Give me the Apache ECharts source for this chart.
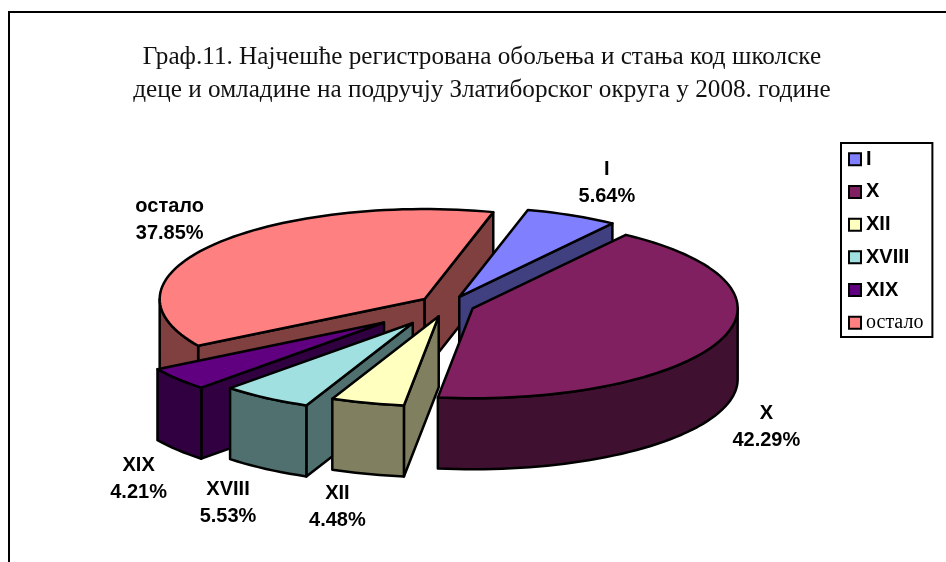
<!DOCTYPE html>
<html>
<head>
<meta charset="utf-8">
<style>
  html, body { margin: 0; padding: 0; background: #fff; }
  #myChart { width: 946px; height: 562px; }
</style>
<script src="https://cdn.jsdelivr.net/npm/echarts@6/dist/echarts.min.js"></script>
</head>
<body>
<div id="myChart"></div>
<script>
// data
const categories = ["I", "X", "XII", "XVIII", "XIX", "остало"];
const values = [5.64, 42.29, 4.48, 5.53, 4.21, 37.85];

// styles
const topColors = ["#8080FF", "#802060", "#FFFFC0", "#A0E0E0", "#600080", "#FF8080"];
const wallColors = ["#404080", "#401030", "#808060", "#507070", "#300040", "#804040"];
const explode = [0.1, 0.1, 0.13, 0.24, 0.31, 0.11];
const labelOffsets = [[35, -32], [47, 86], [-30, 104], [-38, 105], [-39, 100], [-43, -25]];
const drawOrder = [5, 0, 4, 3, 2, 1]; // painter's order, back to front

// 3d pie projection
const cx = 448, cy = 305, rx = 265, ry = 90, depth = 71, startAngle = 15;
const total = values.reduce((a, b) => a + b, 0);

const rad = (d) => (d * Math.PI) / 180;
const rim = (c, a, dz) => [c[0] + rx * Math.sin(rad(a)), c[1] - ry * Math.cos(rad(a)) + dz];
const arc = (c, a0, a1, dz) => {
  const pts = [];
  const n = Math.max(2, Math.ceil(Math.abs(a1 - a0) / 2));
  for (let i = 0; i <= n; i++) pts.push(rim(c, a0 + ((a1 - a0) * i) / n, dz));
  return pts;
};

const sliceStyle = (fill) => ({ fill, stroke: "#000", lineWidth: 2.5, lineJoin: "round" });

function renderSlice(idx) {
  return function (params, api) {
    const value = api.value(0);
    let before = 0;
    for (let i = 0; i < idx; i++) before += values[i];
    const a0 = startAngle + (before / total) * 360;
    const a1 = a0 + (value / total) * 360;
    const mid = (a0 + a1) / 2;
    const e = explode[idx];
    const c = [cx + e * rx * Math.sin(rad(mid)), cy - e * ry * Math.cos(rad(mid))];
    const children = [];
    const wall = wallColors[idx];
    const quad = (a) => {
      const p = rim(c, a, 0);
      return [c, p, [p[0], p[1] + depth], [c[0], c[1] + depth]];
    };
    // cut faces, only those turned to the viewer
    if (Math.sin(rad(a0)) < 0) {
      children.push({ type: "polygon", shape: { points: quad(a0) }, style: sliceStyle(wall) });
    }
    if (Math.sin(rad(a1)) > 0) {
      children.push({ type: "polygon", shape: { points: quad(a1) }, style: sliceStyle(wall) });
    }
    // outer wall, front half of the ellipse only
    const w0 = Math.max(a0, 90), w1 = Math.min(a1, 270);
    if (w1 > w0) {
      const pts = arc(c, w0, w1, 0).concat(arc(c, w1, w0, depth));
      children.push({ type: "polygon", shape: { points: pts }, style: sliceStyle(wall) });
    }
    // top
    children.push({
      type: "polygon",
      shape: { points: [c].concat(arc(c, a0, a1, 0)) },
      style: sliceStyle(topColors[idx]),
    });
    // label
    const m = rim(c, mid, 0);
    const off = labelOffsets[idx];
    children.push({
      type: "text",
      x: m[0] + off[0],
      y: m[1] + off[1],
      style: {
        text: categories[idx] + "\n" + value.toFixed(2) + "%",
        fill: "#000",
        font: 'bold 20px "Liberation Sans", Arial, sans-serif',
        lineHeight: 27,
        align: "center",
        verticalAlign: "middle",
      },
    });
    return { type: "group", children };
  };
}

const option = {
  animation: false,
  backgroundColor: "#fff",
  title: {
    text: "Граф.11. Најчешће регистрована обољења и стања код школске\nдеце и омладине на подручју Златиборског округа у 2008. године",
    left: 477,
    top: 36,
    textAlign: "center",
    textStyle: {
      fontFamily: '"Liberation Serif", "Times New Roman", serif',
      fontSize: 25.2,
      fontWeight: "normal",
      color: "#111",
      lineHeight: 33,
    },
  },
  legend: {
    orient: "vertical",
    left: 841,
    top: 143,
    padding: [5, 9, 3, 7],
    itemWidth: 12,
    itemHeight: 12,
    itemGap: 10.2,
    borderColor: "#000",
    borderWidth: 2,
    backgroundColor: "#fff",
    selectedMode: false,
    icon: "rect",
    itemStyle: { borderColor: "#000", borderWidth: 2 },
    data: categories.map((name, i) => ({
      name,
      textStyle:
        i === categories.length - 1
          ? { fontFamily: '"Liberation Serif", serif', fontSize: 20, fontWeight: "normal", lineHeight: 22.5 }
          : { fontFamily: '"Liberation Sans", sans-serif', fontSize: 20, fontWeight: "bold", lineHeight: 22.5 },
    })),
    textStyle: { color: "#000" },
  },
  graphic: [
    {
      type: "polyline",
      shape: { points: [[9, 562], [9, 12], [946, 12]] },
      style: { stroke: "#000", lineWidth: 2, fill: null },
      silent: true,
    },
  ],
  series: categories.map((name, i) => ({
    name,
    type: "custom",
    coordinateSystem: "none",
    z: 2 + drawOrder.indexOf(i),
    itemStyle: { color: topColors[i] },
    data: [[values[i]]],
    renderItem: renderSlice(i),
  })),
};

const myChart = echarts.init(document.getElementById("myChart"));
myChart.setOption(option);
</script>
</body>
</html>
